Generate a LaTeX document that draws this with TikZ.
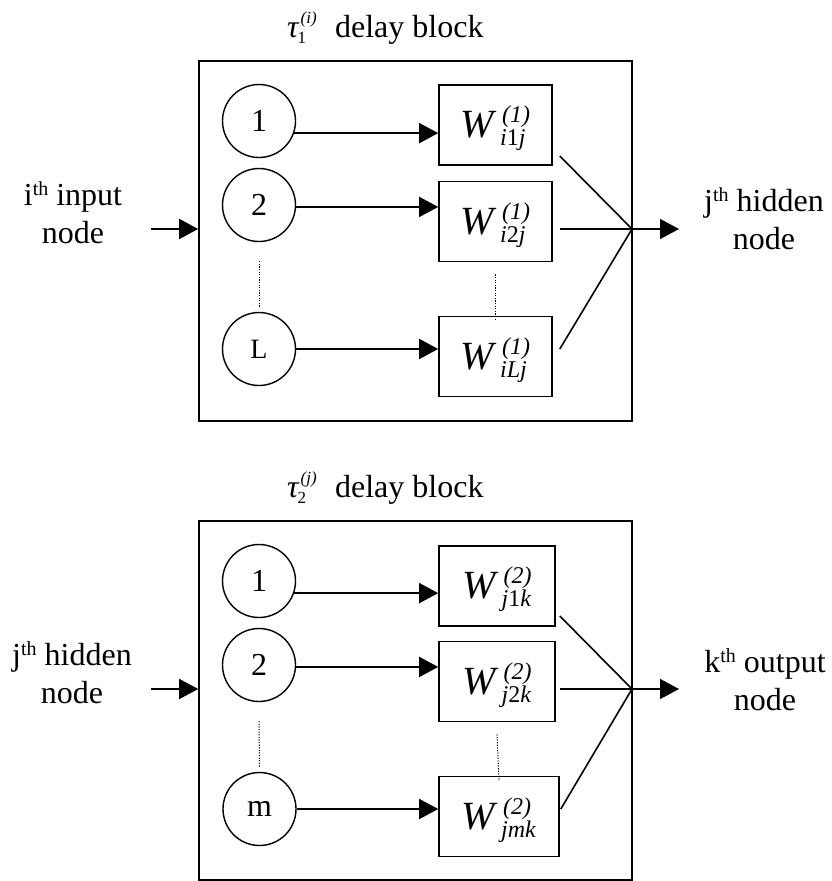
\documentclass[tikz,border=0pt]{standalone}
\usepackage{fontspec}
\setmainfont{Liberation Serif}
\usetikzlibrary{arrows.meta}
\newsavebox\supbx
\newsavebox\subbx
\newlength\wlen
\newcommand{\scrfont}{\fontsize{24}{24}\selectfont}
\newcommand{\Wl}[2]{%
  \sbox\supbx{\scrfont\textit{#1}}\sbox\subbx{\scrfont\textit{#2}}%
  {\fontsize{40}{42}\selectfont\textit{W}}\kern3pt%
  \rlap{\kern2pt\raisebox{15pt}[0pt][0pt]{\usebox\supbx}}%
  \rlap{\raisebox{-8pt}[0pt][0pt]{\usebox\subbx}}%
  \setlength\wlen{\wd\supbx}\addtolength\wlen{2pt}%
  \ifdim\wd\subbx>\wlen\kern\wd\subbx\else\kern\wlen\fi}
\newcommand{\thsup}{\raisebox{10pt}{\fontsize{20}{20}\selectfont th}}
\newcommand{\taulab}[2]{\textit{τ}\kern1pt%
  \rlap{\raisebox{14pt}{\fontsize{17}{17}\selectfont\textit{#2}}}\kern-3pt%
  \raisebox{-6pt}{\fontsize{17}{17}\selectfont #1}}
\tikzset{
  frame/.style={draw, line width=1.6pt, inner sep=0pt},
  circ/.style={circle, draw, line width=1.4pt, minimum size=73pt, inner sep=0pt,
               font=\fontsize{32}{34}\selectfont},
  wbox/.style={draw, line width=1.6pt, minimum height=80pt, inner sep=0pt},
  arr/.style={line width=1.6pt, -{Triangle[length=19pt,width=20pt]}},
  conn/.style={line width=1.6pt},
  dots/.style={line width=1pt, dash pattern=on 1.2pt off 1.4pt},
  lab/.style={font=\fontsize{32}{38}\selectfont, inner sep=0pt}
}
\begin{document}
\begin{tikzpicture}[x=1pt, y=-1pt]
\useasboundingbox (0,0) rectangle (832,881);

% ---------- top block ----------
\node[lab, anchor=base west] (aT) at (287,37) {\taulab{1}{(i)}\hspace{29pt}delay block};
\node[frame, minimum width=433pt, minimum height=360pt] (aF) at (415.5,241) {};
\node[circ] (a1) at (259,121) {1};
\node[circ] (a2) at (259,205) {2};
\node[circ, font=\fontsize{28}{30}\selectfont] (aL) at (259,349) {L};
\node[wbox, minimum width=113pt] (aW1) at (495.5,125) {\Wl{(1)}{i\textup{1}j}};
\node[wbox, minimum width=113pt] (aW2) at (495.5,221.5) {\Wl{(1)}{i\textup{2}j}};
\node[wbox, minimum width=113pt] (aWL) at (495.5,356.5) {\Wl{(1)}{iLj}};
\draw[arr] (a1.-19) -- (a1.-19 -| aW1.west);
\draw[arr] (a2.-3) -- (a2.-3 -| aW2.west);
\draw[arr] (aL.east) -- (aL.east -| aWL.west);
\draw[dots] ([yshift=-19pt]a2.south) -- ([yshift=5pt]aL.north);
\draw[dots] ([yshift=-12pt]aW2.south) -- ([yshift=-5pt]aWL.north);
\coordinate (aJ) at (632,229);
\coordinate (aO) at (679,229);
\coordinate (aI) at (151,229);
\draw[conn] ([shift={(7pt,-31pt)}]aW1.east) -- (aJ);
\draw[conn] ([shift={(7pt,-7.5pt)}]aW2.east) -- (aJ);
\draw[conn] ([shift={(7pt,7.5pt)}]aWL.east) -- (aJ);
\draw[arr] (aJ) -- (aO);
\draw[arr] (aI) -- (aI -| aF.west);
\node[lab, anchor=base] (aInL) at (73,243)
  {\begin{tabular}[b]{@{}c@{}}i\thsup\ input\\node\end{tabular}};
\node[lab, anchor=base] (aOutL) at (764,249)
  {\begin{tabular}[b]{@{}c@{}}j\thsup\ hidden\\node\end{tabular}};

% ---------- bottom block ----------
\node[lab, anchor=base west] (bT) at (287,497) {\taulab{2}{(j)}\hspace{29pt}delay block};
\node[frame, minimum width=433pt, minimum height=359pt] (bF) at (415.5,700.5) {};
\node[circ] (b1) at (259,581) {1};
\node[circ] (b2) at (259,665) {2};
\node[circ] (bm) at (259.5,809) {m};
\node[wbox, minimum width=116pt] (bW1) at (497,586) {\Wl{(2)}{j\textup{1}k}};
\node[wbox, minimum width=116pt] (bW2) at (497,681.5) {\Wl{(2)}{j\textup{2}k}};
\node[wbox, minimum width=120pt] (bWm) at (499,816.5) {\Wl{(2)}{jmk}};
\draw[arr] (b1.-19) -- (b1.-19 -| bW1.west);
\draw[arr] (b2.-3) -- (b2.-3 -| bW2.west);
\draw[arr] (bm.east) -- (bm.east -| bWm.west);
\draw[dots] ([yshift=-19pt]b2.south) -- ([yshift=5pt]bm.north);
\draw[dots] ([yshift=-12pt]bW2.south) -- ([yshift=-5pt]bWm.north);
\coordinate (bJ) at (632,689);
\coordinate (bO) at (679,689);
\coordinate (bI) at (151,689);
\draw[conn] ([shift={(4pt,-30pt)}]bW1.east) -- (bJ);
\draw[conn] ([shift={(4pt,-7.5pt)}]bW2.east) -- (bJ);
\draw[conn] ([shift={(1pt,7.5pt)}]bWm.east) -- (bJ);
\draw[arr] (bJ) -- (bO);
\draw[arr] (bI) -- (bI -| bF.west);
\node[lab, anchor=base] (bInL) at (72,703)
  {\begin{tabular}[b]{@{}c@{}}j\thsup\ hidden\\node\end{tabular}};
\node[lab, anchor=base] (bOutL) at (765,710)
  {\begin{tabular}[b]{@{}c@{}}k\thsup\ output\\node\end{tabular}};
\end{tikzpicture}
\end{document}
